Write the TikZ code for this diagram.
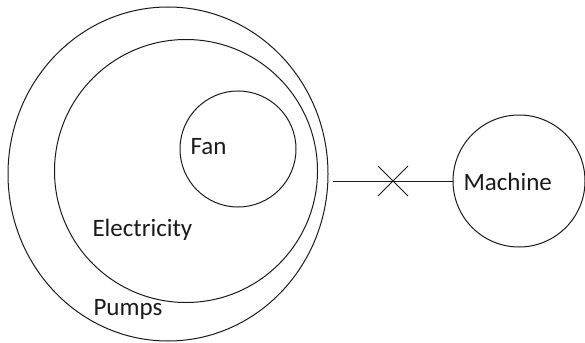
\documentclass[tikz,border=0pt]{standalone}
\usepackage{fontspec}
\setmainfont{Carlito}
\usetikzlibrary{shapes.geometric}
\definecolor{ink}{HTML}{1A1A1A}

\begin{document}
\begin{tikzpicture}[x=1pt,y=-1pt,line width=1pt,
    ring/.style={draw=ink,ellipse,inner sep=0pt},
    lbl/.style={font=\fontsize{25}{29}\selectfont,text=ink,anchor=west,inner sep=0pt}]
  \useasboundingbox (0,0) rectangle (585,342);
  % nested sets
  \node[ring,minimum width=320pt,minimum height=334pt] (pumps) at (168,174) {};
  \node[ring,minimum width=263pt,minimum height=263pt] (elec) at (186,171) {};
  \node[ring,minimum width=116pt,minimum height=116pt] (fan) at (238,149) {};
  \node[lbl] (fanlbl) at (190,147) {Fan};
  \node[lbl] (eleclbl) at (92,230) {Electricity};
  \node[lbl] (pumpslbl) at (93,309) {Pumps};
  % machine, cut off from the rest
  \node[ring,minimum width=132pt,minimum height=132pt] (machine) at (519,181) {};
  \node[lbl] (machinelbl) at (463,182) {Machine};
  \coordinate (link) at (333,181);
  \coordinate (cut) at (393,181);
  \draw[ink] (link) -- (machine.west);
  \draw[ink] ([shift={(-15,-15)}]cut) -- ([shift={(15,15)}]cut);
  \draw[ink] ([shift={(-15,15)}]cut) -- ([shift={(15,-15)}]cut);
\end{tikzpicture}
\end{document}
